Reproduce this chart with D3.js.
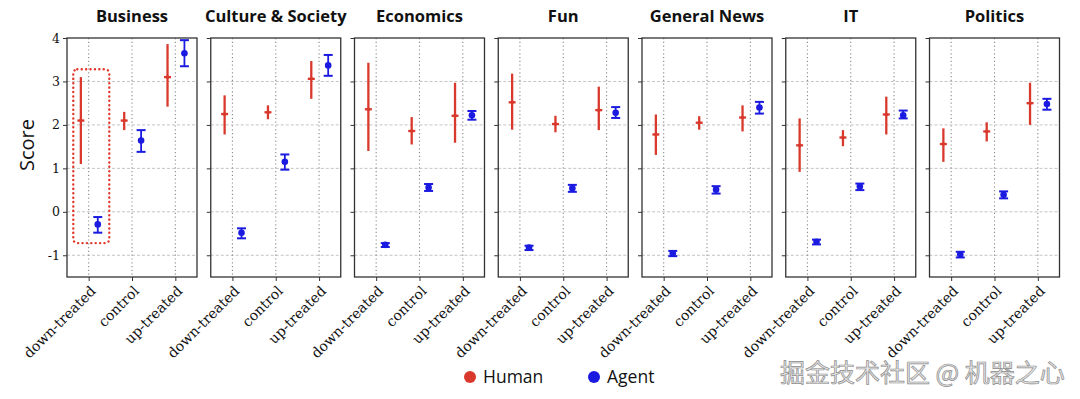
<!DOCTYPE html>
<html>
<head>
<meta charset="utf-8">
<script src="https://cdn.jsdelivr.net/npm/d3@7"></script>
<style>
  body { margin: 0; background: #fff; }
</style>
</head>
<body>
<svg id="chart"></svg>
<script>
const svg_w = 1080;
const svg_h = 399;

// topics (one panel each) and the conditions on the x axis
const topics = ["Business", "Culture & Society", "Economics", "Fun", "General News", "IT", "Politics"];
const conditions = ["down-treated", "control", "up-treated"];
const y_ticks = [4, 3, 2, 1, 0, -1];

// human scores: mean, lower end and upper end of the bar, per topic x condition
const human_mean = [
  [2.10, 2.10, 3.10],
  [2.25, 2.29, 3.06],
  [2.36, 1.86, 2.21],
  [2.52, 2.02, 2.34],
  [1.78, 2.05, 2.17],
  [1.53, 1.71, 2.24],
  [1.56, 1.85, 2.50]
];
const human_lo = [
  [1.10, 1.88, 2.42],
  [1.78, 2.13, 2.60],
  [1.40, 1.55, 1.59],
  [1.89, 1.83, 1.88],
  [1.31, 1.89, 1.85],
  [0.92, 1.51, 1.78],
  [1.15, 1.62, 2.00]
];
const human_hi = [
  [3.10, 2.30, 3.86],
  [2.68, 2.45, 3.47],
  [3.43, 2.18, 2.97],
  [3.18, 2.21, 2.88],
  [2.24, 2.20, 2.45],
  [2.15, 1.88, 2.65],
  [1.92, 2.06, 2.97]
];

// agent scores
const agent_mean = [
  [-0.29, 1.64, 3.65],
  [-0.48, 1.15, 3.37],
  [-0.76, 0.56, 2.22],
  [-0.82, 0.54, 2.28],
  [-0.96, 0.51, 2.40],
  [-0.69, 0.58, 2.22],
  [-0.98, 0.39, 2.48]
];
const agent_lo = [
  [-0.48, 1.38, 3.35],
  [-0.61, 0.97, 3.13],
  [-0.81, 0.48, 2.12],
  [-0.88, 0.46, 2.16],
  [-1.02, 0.42, 2.26],
  [-0.75, 0.50, 2.15],
  [-1.05, 0.31, 2.35]
];
const agent_hi = [
  [-0.12, 1.88, 3.95],
  [-0.38, 1.32, 3.61],
  [-0.72, 0.64, 2.32],
  [-0.78, 0.62, 2.41],
  [-0.90, 0.59, 2.53],
  [-0.64, 0.65, 2.33],
  [-0.92, 0.47, 2.60]
];

// highlight box in the first panel: [x0, x1] in category units, [y0, y1] in score
const box_x = [-0.355, 0.476];
const box_y = [-0.72, 3.28];

const human_color = "#d9392c";
const agent_color = "#1a1ae0";
const serif = "'DejaVu Serif', 'Liberation Serif', serif";
const sans = "'Open Sans', 'Noto Sans', sans-serif";

let svg = d3.select("#chart")
  .attr("width", svg_w)
  .attr("height", svg_h)
  .style("font-family", sans);

// panels
let panel_scale = d3.scaleBand()
  .domain(topics)
  .range([67, 1059.5])
  .paddingInner(0.0957);

let pw = panel_scale.bandwidth();
let y_scale = d3.scaleLinear().domain([-1.5, 4]).range([277, 38]);
let x_scale = d3.scaleLinear().domain([-0.5, 2.5]).range([0, pw]);

const offset = {human: -0.18, agent: 0.21};

topics.forEach((topic, ti) => {
  let g = svg.append("g")
    .attr("transform", `translate(${panel_scale(topic)},0)`);

  // horizontal dashed grid
  g.append("g").selectAll("line")
    .data(y_ticks.filter(d => d < 4))
    .enter()
    .append("line")
    .attr("x1", 0).attr("x2", pw)
    .attr("y1", d => y_scale(d)).attr("y2", d => y_scale(d))
    .attr("stroke", "#c4c4c4")
    .attr("stroke-width", 1)
    .attr("stroke-dasharray", "3,2");

  // vertical dotted grid
  g.append("g").selectAll("line")
    .data(conditions)
    .enter()
    .append("line")
    .attr("x1", (d, i) => x_scale(i)).attr("x2", (d, i) => x_scale(i))
    .attr("y1", y_scale(4)).attr("y2", y_scale(-1.5))
    .attr("stroke", "#8a8a8a")
    .attr("stroke-width", 1.1)
    .attr("stroke-dasharray", "1.2,2.6");

  // axes
  let y_axis = d3.axisLeft(y_scale).tickValues(y_ticks).tickSize(4).tickPadding(3)
    .tickFormat(d => ti == 0 ? d : "");
  let ya = g.append("g").call(y_axis);
  ya.select(".domain").remove();
  ya.selectAll("text")
    .attr("font-family", serif)
    .attr("font-size", 12.5)
    .attr("fill", "#111");
  ya.selectAll("line").attr("stroke", "#333");

  let xa = g.append("g")
    .attr("transform", `translate(0,${y_scale(-1.5)})`)
    .call(d3.axisBottom(x_scale).tickValues([0, 1, 2]).tickSize(4).tickFormat(""));
  xa.select(".domain").remove();
  xa.selectAll("line").attr("stroke", "#333");

  g.append("g").selectAll("text")
    .data(conditions)
    .enter()
    .append("text")
    .attr("transform", (d, i) => `translate(${x_scale(i) + 1},${y_scale(-1.5) + 8}) rotate(-45)`)
    .attr("text-anchor", "end")
    .attr("dy", "0.7em")
    .attr("font-family", serif)
    .attr("font-size", 14)
    .attr("fill", "#111")
    .text(d => d);

  // frame
  g.append("rect")
    .attr("x", 0).attr("y", y_scale(4))
    .attr("width", pw).attr("height", y_scale(-1.5) - y_scale(4))
    .attr("fill", "none")
    .attr("stroke", "#333")
    .attr("stroke-width", 1.3);

  // title
  g.append("text")
    .attr("x", pw / 2).attr("y", 21.5)
    .attr("text-anchor", "middle")
    .attr("font-size", 16.5)
    .attr("font-weight", "bold")
    .attr("fill", "#111")
    .text(topic);

  // human error bars
  let hum = g.append("g").selectAll("g")
    .data(conditions.map((c, i) => ({i: i, m: human_mean[ti][i], lo: human_lo[ti][i], hi: human_hi[ti][i]})))
    .enter()
    .append("g")
    .attr("transform", d => `translate(${x_scale(d.i + offset.human)},0)`);
  hum.append("line")
    .attr("y1", d => y_scale(d.lo)).attr("y2", d => y_scale(d.hi))
    .attr("stroke", human_color).attr("stroke-width", 2.3);
  hum.append("line")
    .attr("x1", -3.5).attr("x2", 3.5)
    .attr("y1", d => y_scale(d.m)).attr("y2", d => y_scale(d.m))
    .attr("stroke", human_color).attr("stroke-width", 2.3);
  hum.append("circle")
    .attr("cy", d => y_scale(d.m)).attr("r", 1.8)
    .attr("fill", human_color);

  // agent error bars
  let ag = g.append("g").selectAll("g")
    .data(conditions.map((c, i) => ({i: i, m: agent_mean[ti][i], lo: agent_lo[ti][i], hi: agent_hi[ti][i]})))
    .enter()
    .append("g")
    .attr("transform", d => `translate(${x_scale(d.i + offset.agent)},0)`);
  ag.append("line")
    .attr("y1", d => y_scale(d.lo)).attr("y2", d => y_scale(d.hi))
    .attr("stroke", agent_color).attr("stroke-width", 1.8);
  ag.selectAll(".cap")
    .data(d => [d.lo, d.hi])
    .enter()
    .append("line")
    .attr("x1", -4.5).attr("x2", 4.5)
    .attr("y1", d => y_scale(d)).attr("y2", d => y_scale(d))
    .attr("stroke", agent_color).attr("stroke-width", 2);
  ag.append("circle")
    .attr("cy", d => y_scale(d.m)).attr("r", 3.3)
    .attr("fill", agent_color);

  // dotted highlight in the first panel
  if (ti == 0) {
    g.append("rect")
      .attr("x", x_scale(box_x[0])).attr("y", y_scale(box_y[1]))
      .attr("width", x_scale(box_x[1]) - x_scale(box_x[0]))
      .attr("height", y_scale(box_y[0]) - y_scale(box_y[1]))
      .attr("rx", 4)
      .attr("fill", "none")
      .attr("stroke", "#e0392b")
      .attr("stroke-width", 2.4)
      .attr("stroke-linecap", "round")
      .attr("stroke-dasharray", "0.1,4.3");
  }
});

// y label
svg.append("text")
  .attr("transform", "translate(34,145) rotate(-90)")
  .attr("text-anchor", "middle")
  .attr("font-size", 20)
  .attr("fill", "#111")
  .text("Score");

// legend
let legend = svg.append("g")
  .selectAll("g")
  .data([{label: "Human", color: human_color, x: 470}, {label: "Agent", color: agent_color, x: 594}])
  .enter()
  .append("g")
  .attr("transform", d => `translate(${d.x},377)`);
legend.append("circle").attr("r", 6).attr("fill", d => d.color);
legend.append("text")
  .attr("x", 13).attr("dy", "0.36em")
  .attr("font-size", 17.5)
  .attr("fill", "#111")
  .text(d => d.label);

// watermark
svg.append("text")
  .attr("x", 780).attr("y", 382)
  .attr("font-family", "'Noto Sans CJK SC', sans-serif")
  .attr("font-size", 25)
  .attr("fill", "#e6e6e6")
  .attr("stroke", "#8c8c8c")
  .attr("stroke-width", 0.7)
  .text("掘金技术社区 @ 机器之心");
</script>
</body>
</html>
